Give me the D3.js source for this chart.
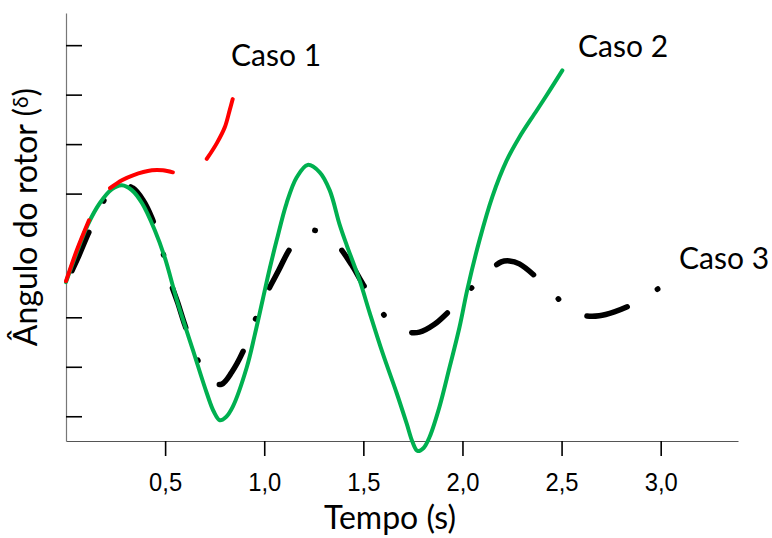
<!DOCTYPE html>
<html>
<head>
<meta charset="utf-8">
<script src="https://cdn.jsdelivr.net/npm/d3@7"></script>
<style>
  body { margin: 0; background: #fff; }
  .axis text { font-family: "Liberation Sans", sans-serif; }
  .lbl { font-family: Lato, "Open Sans", sans-serif; fill: #000; }
</style>
</head>
<body>
<div class="rotor_plot"></div>
<script>
// tempo (s) e ângulo do rotor
const caso2_t = [0, 0.055, 0.111, 0.171, 0.232, 0.282, 0.332, 0.383, 0.448, 0.499, 0.559, 0.640, 0.710, 0.746, 0.776, 0.806, 0.841, 0.912, 0.952, 0.992, 1.028, 1.063, 1.113, 1.164, 1.219, 1.280, 1.330, 1.380, 1.416, 1.481, 1.532, 1.597, 1.668, 1.718, 1.748, 1.773, 1.804, 1.834, 1.884, 1.935, 1.985, 2.025, 2.086, 2.151, 2.222, 2.287, 2.373, 2.438, 2.504];
const caso2_d = [32.1, 38.2, 43.8, 48.1, 50.9, 51.7, 50.7, 48.1, 42.6, 37.0, 28.5, 18.4, 9.7, 5.9, 4.2, 4.8, 6.9, 14.9, 21.4, 28.5, 34.9, 40.6, 48.1, 53.3, 55.8, 54.3, 50.7, 43.8, 39.6, 32.5, 25.9, 17.8, 9.7, 3.6, -0.2, -2.0, -1.4, 0.8, 6.9, 14.9, 23.0, 30.7, 40.6, 49.4, 56.6, 61.4, 66.7, 70.7, 74.9];

// null = trecho sem traço
const caso1_t = [0, 0.055, 0.116, 0.17, 0.222, 0.282, 0.338, 0.433, 0.489, 0.539, 0.62, 0.710, 0.761, 0.801, 0.826, 0.841];
const caso1_d = [32.3, 38.6, 44.6, null, 51.1, 52.7, 53.7, 54.7, 54.7, 54.3, null, 57.0, 60.2, 63.4, 66.9, 69.1];

const caso3_t = [0, 0.060, 0.111, 0.171, 0.222, 0.282, 0.338, 0.388, 0.433, 0.484, 0.524, 0.564, 0.600, 0.655, 0.700, 0.746, 0.786, 0.836, 0.892, 0.947, 0.987, 1.018, 1.073, 1.123, 1.179, 1.239, 1.305, 1.370, 1.441, 1.501, 1.592, 1.657, 1.728, 1.783, 1.859, 1.924, 2.040, 2.151, 2.196, 2.237, 2.287, 2.373, 2.484, 2.554, 2.620, 2.690, 2.766, 2.851, 2.992];
const caso3_d = [31.9, 37.0, 41.8, 46.9, 50.5, 51.7, 51.1, 48.7, 45.1, 38.8, 32.5, 27.9, 23.4, 17.4, 13.3, 11.7, 11.5, 13.9, 18.0, 23.8, 27.5, 30.3, 34.5, 38.4, 41.4, 42.6, 41.8, 39.6, 35.6, 31.5, 26.1, 23.2, 22.0, 22.0, 23.6, 25.9, 30.7, 34.9, 36.2, 36.4, 35.8, 33.1, 28.7, 26.1, 25.3, 25.3, 26.1, 27.5, 30.9];

const xTicks = [0.5, 1.0, 1.5, 2.0, 2.5, 3.0];
const yTicks = [5, 15, 25, 50, 60, 70, 80];

const margin = {top: 13, right: 34, bottom: 97, left: 66};
const width = 772 - margin.left - margin.right,
      height = 538 - margin.top - margin.bottom;

const xScale = d3.scaleLinear().domain([0, 3.39]).range([0, width]);
const yScale = d3.scaleLinear().domain([0, 86.5]).range([height, 0]);

const svg = d3.select('.rotor_plot')
              .append('svg')
              .attr('width', 772)
              .attr('height', 538)
              .append('g')
              .attr('transform', 'translate(' + margin.left + ',' + margin.top + ')');

// eixos
const xAxis = d3.axisBottom(xScale)
                .tickValues(xTicks)
                .tickSize(15)
                .tickSizeOuter(0)
                .tickPadding(17)
                .tickFormat(d => d3.format('.1f')(d).replace('.', ','));
const yAxis = d3.axisRight(yScale)
                .tickValues(yTicks)
                .tickSize(16)
                .tickSizeOuter(0)
                .tickFormat('');

const gx = svg.append('g')
   .attr('class', 'axis x-axis')
   .attr('transform', `translate(0, ${height})`)
   .call(xAxis);
gx.selectAll('text')
  .attr('font-size', 26)
  .attr('fill', '#000')
  .attr('textLength', 33)
  .attr('lengthAdjust', 'spacingAndGlyphs');
gx.selectAll('.tick line').attr('stroke', '#000').attr('stroke-width', 1.6);
gx.select('.domain').attr('stroke', '#555').attr('stroke-width', 1.2);

const gy = svg.append('g')
   .attr('class', 'axis y-axis')
   .call(yAxis);
gy.selectAll('.tick line').attr('stroke', '#000').attr('stroke-width', 1.6);
gy.select('.domain').attr('stroke', '#777').attr('stroke-width', 1.2);

const mk = (ts, ds) => ts.map((t, i) => ({t: t, d: ds[i]}));
const line = d3.line()
               .defined(p => p.d !== null)
               .x(p => xScale(p.t))
               .y(p => yScale(p.d))
               .curve(d3.curveCatmullRom.alpha(0.5));

// caso 3: traço-ponto, termina num ponto
const p3 = svg.append('path')
   .datum(mk(caso3_t, caso3_d))
   .attr('d', line)
   .attr('fill', 'none')
   .attr('stroke', '#000')
   .attr('stroke-width', 5.5)
   .attr('stroke-linecap', 'round')
   .attr('stroke-dasharray', '42 34.5 0.5 34');
const L = p3.node().getTotalLength();
const period = 111;
p3.attr('stroke-dashoffset', ((79.5 - L) % period + period) % period);

svg.append('path')
   .datum(mk(caso2_t, caso2_d))
   .attr('d', line)
   .attr('fill', 'none')
   .attr('stroke', '#00b050')
   .attr('stroke-width', 4)
   .attr('stroke-linecap', 'round');

svg.append('path')
   .datum(mk(caso1_t, caso1_d))
   .attr('d', line)
   .attr('fill', 'none')
   .attr('stroke', '#ff0000')
   .attr('stroke-width', 4)
   .attr('stroke-linecap', 'round');

// rótulos
const root = d3.select('svg');
root.append('text').attr('class', 'lbl').attr('x', 231).attr('y', 66)
    .attr('font-size', 30).text('Caso 1');
root.append('text').attr('class', 'lbl').attr('x', 578).attr('y', 57)
    .attr('font-size', 30).text('Caso 2');
root.append('text').attr('class', 'lbl').attr('x', 679).attr('y', 269)
    .attr('font-size', 30).text('Caso 3');
root.append('text').attr('class', 'lbl').attr('x', 390).attr('y', 529)
    .attr('text-anchor', 'middle').attr('font-size', 32).text('Tempo (s)');
const yl = root.append('text').attr('class', 'lbl')
    .attr('transform', 'translate(37, 217) rotate(-90)')
    .attr('text-anchor', 'middle').attr('font-size', 32);
yl.append('tspan').text('Ângulo do rotor (');
yl.append('tspan').attr('font-size', 21).attr('dy', -9).text('δ');
yl.append('tspan').attr('dy', 9).text(')');
</script>
</body>
</html>
